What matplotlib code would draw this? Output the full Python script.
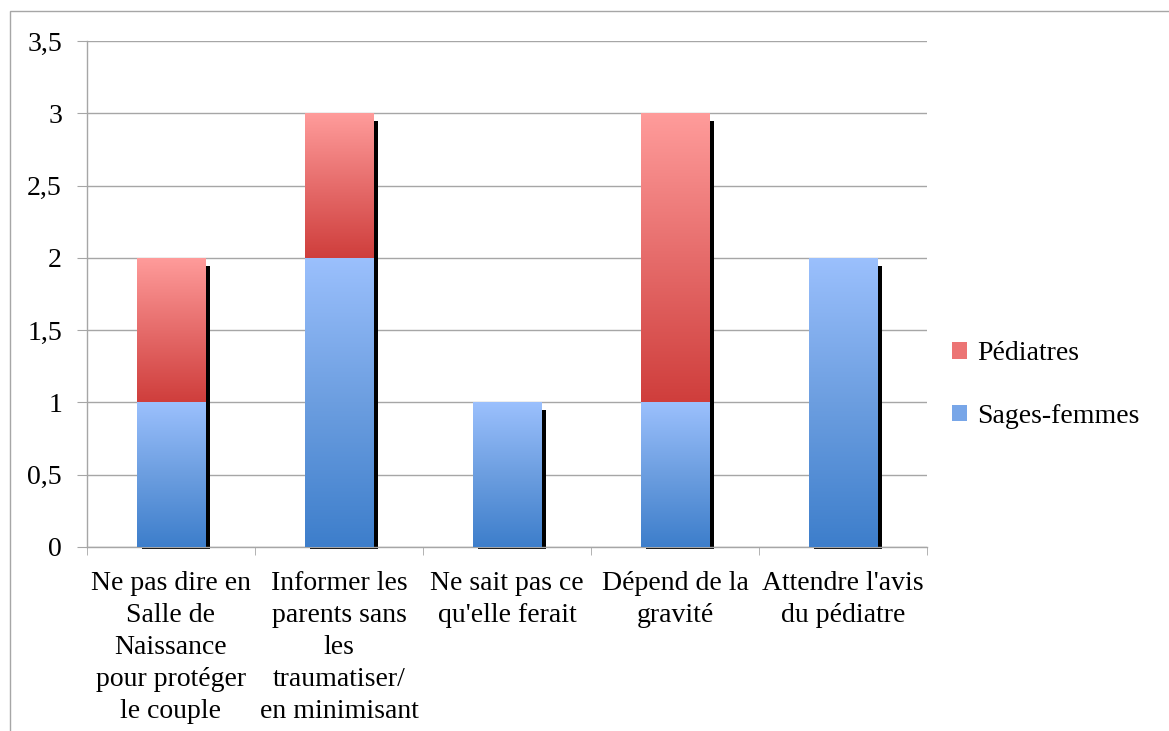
import numpy as np
import matplotlib
matplotlib.use("Agg")
import matplotlib.pyplot as plt
from matplotlib.patches import Rectangle, Patch
from matplotlib.colors import LinearSegmentedColormap
import matplotlib.transforms as mtransforms
from matplotlib.ticker import FixedLocator, FuncFormatter

plt.rcParams['font.family'] = ['Liberation Serif', 'DejaVu Serif']

categories = [
    "Ne pas dire en\nSalle de\nNaissance\npour protéger\nle couple",
    "Informer les\nparents sans\nles\ntraumatiser/\nen minimisant",
    "Ne sait pas ce\nqu'elle ferait",
    "Dépend de la\ngravité",
    "Attendre l'avis\ndu pédiatre",
]
sages_femmes = [1, 2, 1, 1, 2]
pediatres = [1, 1, 0, 2, 0]
series_names = ["Sages-femmes", "Pédiatres"]
yticks = [0, 0.5, 1, 1.5, 2, 2.5, 3, 3.5]

blue_cmap = LinearSegmentedColormap.from_list("b", ["#3d7ecb", "#6c9ee0", "#9bc0fd"])
red_cmap = LinearSegmentedColormap.from_list("r", ["#cf3e3c", "#e66c6b", "#ff9c9b"])

W, H = 1169, 731
fig = plt.figure(figsize=(W / 100, H / 100), dpi=100)
ax = fig.add_axes([87 / W, 1 - 547 / H, (927 - 87) / W, (547 - 41) / H])

# outer chart border
fig.patches.append(Rectangle((10 / W, -0.1), 1.2, 1 - 11 / H + 0.1, transform=fig.transFigure,
                             fill=False, edgecolor="#a6a6a6", linewidth=1.0))

n = len(categories)
x = np.arange(n)
bw = 0.405
ax.set_xlim(-0.5, n - 0.5)
ax.set_ylim(0, 3.5)

grad = np.linspace(0, 1, 256).reshape(-1, 1)

def gradient_bar(xc, bottom, height, cmap):
    if height <= 0:
        return
    rect = Rectangle((xc - bw / 2, bottom), bw, height, facecolor="none", edgecolor="none", zorder=3)
    ax.add_patch(rect)
    im = ax.imshow(grad, cmap=cmap, origin="lower", aspect="auto",
                   extent=(xc - bw / 2, xc + bw / 2, bottom, bottom + height), zorder=3,
                   interpolation="bilinear")
    im.set_clip_path(rect)

px_y = 3.5 / (547 - 41)
shadow_tr = mtransforms.offset_copy(ax.transData, fig=fig, x=5, y=-2, units="dots")
totals = [a + b for a, b in zip(sages_femmes, pediatres)]
for xi, tot in zip(x, totals):
    sh = Rectangle((xi - bw / 2, 0), bw, tot - 6 * px_y, facecolor="black", edgecolor="none",
                   transform=shadow_tr, zorder=2, clip_on=False)
    ax.add_patch(sh)

for xi, s, p in zip(x, sages_femmes, pediatres):
    gradient_bar(xi, 0, s, blue_cmap)
    gradient_bar(xi, s, p, red_cmap)

ax.set_xlim(-0.5, n - 0.5)
ax.set_ylim(0, 3.5)

ax.set_yticks(yticks)
ax.yaxis.set_major_formatter(FuncFormatter(lambda v, p: ("%g" % v).replace(".", ",")))
ax.grid(axis="y", color="#a6a6a6", linewidth=1.0, zorder=0)
ax.set_axisbelow(True)
for s in ["top", "right"]:
    ax.spines[s].set_visible(False)
for s in ["left", "bottom"]:
    ax.spines[s].set_color("#a6a6a6")
    ax.spines[s].set_linewidth(1.0)
ax.tick_params(axis="y", length=7, color="#a6a6a6", labelsize=20, pad=11)
ax.set_xticks(x)
ax.set_xticklabels(categories, fontsize=20, linespacing=1.37)
ax.tick_params(axis="x", which="major", length=0, pad=17)
ax.xaxis.set_minor_locator(FixedLocator(np.arange(-0.5, n, 1.0)))
ax.tick_params(axis="x", which="minor", length=6, color="#a6a6a6")
for lab in ax.get_xticklabels():
    lab.set_verticalalignment("top")
    lab.set_horizontalalignment("center")

handles = [Patch(facecolor="#ec7474", edgecolor="none"), Patch(facecolor="#78a6e8", edgecolor="none")]
leg = fig.legend(handles, [series_names[1], series_names[0]], loc="center left",
                 bbox_to_anchor=(927 / W, 1 - 385 / H), frameon=False, fontsize=20,
                 handlelength=0.55, handleheight=0.55, handletextpad=0.35, labelspacing=1.35)

fig.savefig("out.png", dpi=100)
